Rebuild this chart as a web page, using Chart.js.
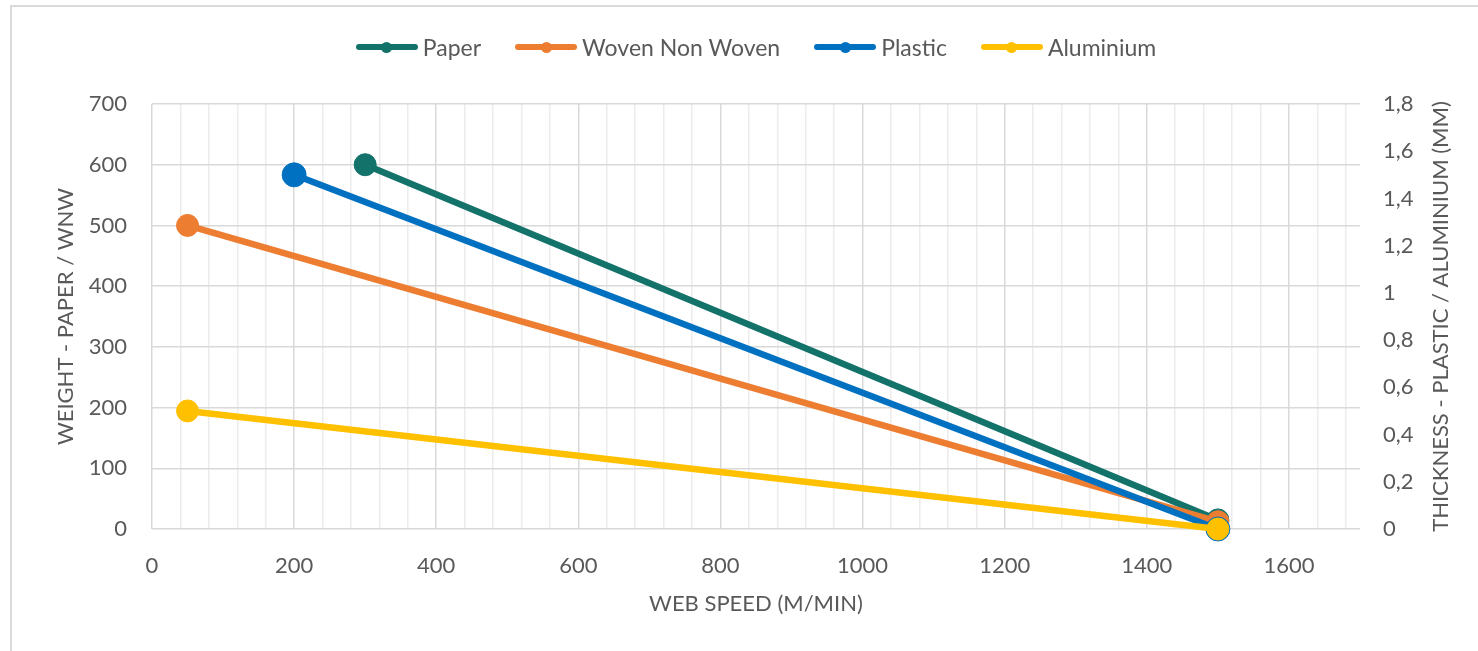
<!DOCTYPE html>
<html>
<head>
<meta charset="utf-8">
<title>Web speed vs weight / thickness</title>
<script src="https://cdn.jsdelivr.net/npm/chart.js@4.4.1/dist/chart.umd.min.js"></script>
<style>
    html, body { margin: 0; padding: 0; background: #ffffff; overflow: hidden; }
    body { width: 1478px; height: 651px; position: relative; font-family: Lato, sans-serif; }
    .frame { position: absolute; left: 10px; top: 5px; right: 0; bottom: 0; border-left: 2px solid #d9d9d9; border-top: 2px solid #d9d9d9; }
    .chart-box { position: absolute; left: 12px; top: 7px; width: 1466px; height: 644px; }
    #legend { position: absolute; left: 152px; width: 1208px; top: 33px; height: 28px; display: flex; justify-content: center; align-items: center; gap: 34px; }
    .legend-item { display: flex; align-items: center; gap: 5px; font-size: 23px; color: #595959; white-space: nowrap; }
    .swatch { position: relative; width: 62px; height: 6px; border-radius: 3px; }
    .swatch span { position: absolute; left: 25.5px; top: -2.5px; width: 11px; height: 11px; border-radius: 50%; }
</style>
</head>
<body>
<div class="frame"></div>
<div class="chart-box"><canvas id="speedChart" width="1466" height="644"></canvas></div>
<div id="legend"></div>

<script>
// values
const webSpeedPaper = [300, 1500];
const weightPaper = [600, 15];
const webSpeedWnw = [50, 1500];
const weightWnw = [500, 12];
const webSpeedPlastic = [200, 1500];
const thicknessPlastic = [1.5, 0];
const webSpeedAlu = [50, 1500];
const thicknessAlu = [0.5, 0];

const seriesNames = ['Paper', 'Woven Non Woven', 'Plastic', 'Aluminium'];
const seriesColors = ['#13726a', '#ed7d31', '#0070c0', '#ffc000'];

const xMax = 1700, xMinorStep = 40, xLabelStep = 200;
const leftMax = 700, leftStep = 100;
const rightMax = 1.8, rightStep = 0.2;

const xTitle = 'WEB SPEED (M/MIN)';
const leftTitle = 'WEIGHT - PAPER / WNW';
const rightTitle = 'THICKNESS - PLASTIC / ALUMINIUM (MM)';

const textColor = '#595959';
const majorGrid = '#d9d9d9';
const minorGrid = '#ececec';

function toPoints(xs, ys) {
    return xs.map((x, i) => ({ x: x, y: ys[i] }));
}

function makeSeries(idx, xs, ys, axisId, order, radius) {
    return {
        label: seriesNames[idx],
        data: toPoints(xs, ys),
        yAxisID: axisId,
        order: order,
        showLine: true,
        borderColor: seriesColors[idx],
        backgroundColor: seriesColors[idx],
        borderWidth: 6.5,
        borderCapStyle: 'round',
        pointRadius: radius,
        pointHoverRadius: radius,
        pointBorderWidth: 1,
        pointBorderColor: seriesColors[idx],
        pointBackgroundColor: seriesColors[idx],
        clip: false
    };
}

// right axis title reads bottom-to-top like the left one
const rightTitlePlugin = {
    id: 'rightTitle',
    afterDraw(chart) {
        const ctx = chart.ctx;
        const area = chart.chartArea;
        ctx.save();
        ctx.translate(1429, (area.top + area.bottom) / 2);
        ctx.rotate(-Math.PI / 2);
        ctx.font = '22px Lato';
        ctx.fillStyle = textColor;
        ctx.textAlign = 'center';
        ctx.textBaseline = 'middle';
        ctx.fillText(rightTitle, 0, 0);
        ctx.restore();
    }
};

function renderLegend() {
    const box = document.getElementById('legend');
    box.innerHTML = seriesNames.map((name, i) => `
        <div class="legend-item">
            <div class="swatch" style="background:${seriesColors[i]}"><span style="background:${seriesColors[i]}"></span></div>
            <span>${name}</span>
        </div>`).join('');
}

function renderChart() {
    const ctx = document.getElementById('speedChart').getContext('2d');
    Chart.defaults.font.family = 'Lato';
    Chart.defaults.font.size = 22;
    Chart.defaults.color = textColor;

    new Chart(ctx, {
        type: 'scatter',
        data: {
            datasets: [
                makeSeries(0, webSpeedPaper, weightPaper, 'y', 4, 11),
                makeSeries(1, webSpeedWnw, weightWnw, 'y', 3, 11),
                makeSeries(2, webSpeedPlastic, thicknessPlastic, 'y2', 2, 12),
                makeSeries(3, webSpeedAlu, thicknessAlu, 'y2', 1, 11)
            ]
        },
        options: {
            responsive: false,
            animation: false,
            layout: { padding: { top: 97, left: 0, right: 0, bottom: 0 } },
            plugins: {
                legend: { display: false }, // HTML legend above
                tooltip: { enabled: false }
            },
            scales: {
                x: {
                    type: 'linear',
                    min: 0,
                    max: xMax,
                    afterBuildTicks: axis => {
                        const ticks = [];
                        for (let v = 0; v < xMax; v += xMinorStep) ticks.push({ value: v });
                        axis.ticks = ticks;
                    },
                    afterFit: axis => { axis.height = 122; },
                    border: { display: false },
                    grid: {
                        drawTicks: false,
                        lineWidth: 1.5,
                        color: c => (c.tick && c.tick.value % xLabelStep === 0) ? majorGrid : minorGrid
                    },
                    ticks: {
                        autoSkip: false,
                        maxRotation: 0,
                        padding: 24,
                        callback: v => (v % xLabelStep === 0 ? v : '')
                    },
                    title: { display: true, text: xTitle, padding: { top: 0, bottom: 34 } }
                },
                y: {
                    position: 'left',
                    min: 0,
                    max: leftMax,
                    afterFit: axis => { axis.width = 140; },
                    border: { display: false },
                    grid: { drawTicks: false, lineWidth: 1.5, color: majorGrid },
                    ticks: { stepSize: leftStep, padding: 25 },
                    title: { display: true, text: leftTitle, padding: { top: 41, bottom: 0 } }
                },
                y2: {
                    position: 'right',
                    min: 0,
                    max: rightMax,
                    afterFit: axis => { axis.width = 118; },
                    border: { display: false },
                    grid: { display: false, drawTicks: false },
                    ticks: {
                        stepSize: rightStep,
                        padding: 23,
                        callback: v => String(Math.round(v * 10) / 10).replace('.', ',')
                    }
                }
            }
        },
        plugins: [rightTitlePlugin]
    });
}

window.onload = () => {
    renderLegend();
    renderChart();
};
</script>
</body>
</html>
